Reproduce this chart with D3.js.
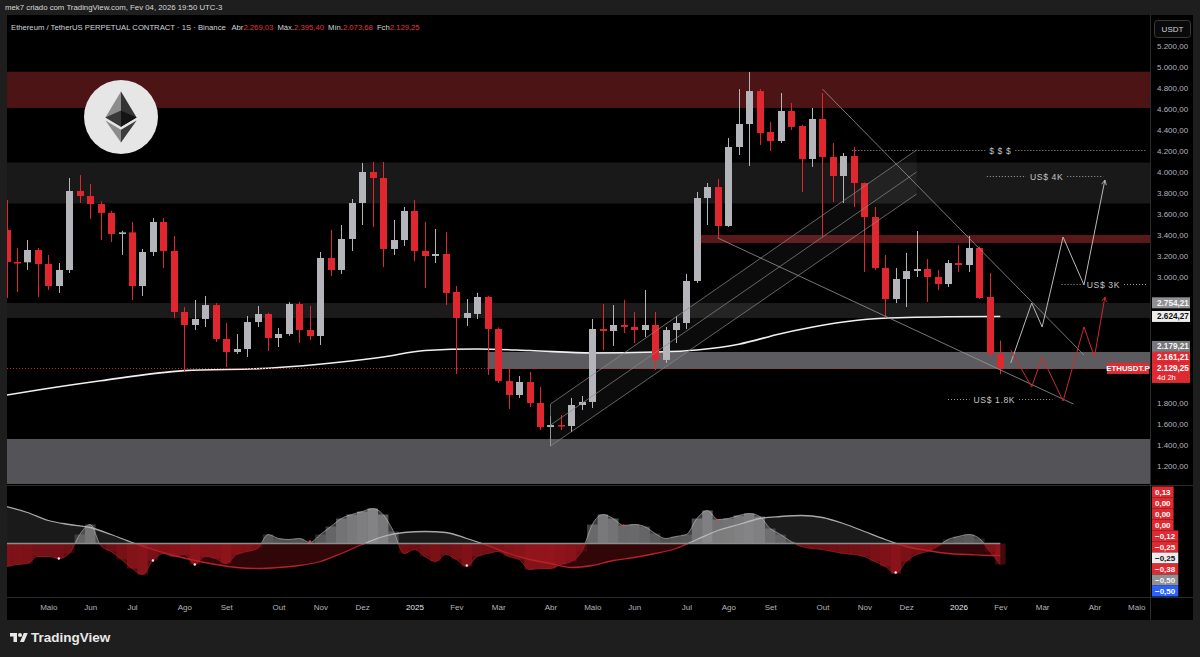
<!DOCTYPE html>
<html>
<head>
<meta charset="utf-8">
<script src="https://cdn.jsdelivr.net/npm/d3@7"></script>
<style>
  html, body { margin: 0; padding: 0; background: #1e1e1e; }
  svg { display: block; font-family: "Liberation Sans", Arial, sans-serif; }
</style>
</head>
<body>
<svg id="chart" width="1200" height="657"></svg>
<script>
// ETH/USDT weekly candles (1S), Apr 2024 -> Feb 2026
const firstWeek = "2024-04-08";
const opens  = [3448,3143,3140,3257,3124,2914,3067,3819,3771,3695,3610,3410,3425,2914,3238,3524,3248,2667,2543,2600,
                2733,2410,2286,2314,2571,2648,2419,2457,2743,2495,2438,3181,3067,3362,3705,4000,3943,3267,3352,3629,
                3248,3200,3219,2857,2610,2648,2810,2505,2010,1876,2000,1800,1571,1590,1581,1781,1810,2505,2486,2543,
                2524,2495,2543,2210,2495,2562,2962,3752,3857,3486,4238,4457,4771,4381,4295,4581,4438,4124,4505,4143,
                3962,4152,3895,3571,3086,2790,2981,3057,3076,3000,2933,3133,3114,3276,2810,2269.03];
const highs  = [3733,3276,3352,3276,3210,3133,3943,3971,3886,3720,3630,3440,3524,3267,3562,3562,3390,2714,2781,2819,
                2752,2562,2457,2629,2724,2660,2514,2760,2762,2724,3238,3448,3495,3743,4086,4095,4095,3543,3667,3733,
                3524,3457,3429,2914,2790,2848,2819,2520,2133,2057,2095,1952,1676,1686,1848,1867,2600,2743,2733,2781,
                2667,2876,2667,2524,2629,3029,3810,3895,3933,4324,4790,4952,4790,4476,4752,4657,4450,4610,4752,4276,
                4181,4238,3900,3667,3210,3086,3229,3438,3171,3067,3162,3305,3390,3290,3038,2395.40];
const lows   = [2800,2857,3067,2810,2876,2848,3038,3705,3552,3352,3333,3210,2781,2819,3200,3086,2610,2095,2495,2524,
                2381,2143,2267,2238,2524,2295,2333,2440,2371,2400,2352,3010,3029,3248,3495,3476,3095,3210,3295,3152,
                2895,3133,2733,2076,2533,2600,2067,1990,1743,1848,1762,1543,1390,1543,1524,1733,1752,2305,2343,2467,
                2371,2429,2114,2181,2371,2505,2943,3495,3371,3476,4162,4057,4257,4200,4276,4400,3810,4048,3381,3714,
                3705,3667,3048,3067,2610,2752,2714,3000,2762,2876,2905,3048,3048,2790,2238,2073.68];
const closes = [3143,3140,3257,3124,2914,3067,3819,3771,3695,3610,3410,3425,2914,3238,3524,3248,2667,2543,2600,2733,
                2410,2286,2314,2571,2648,2419,2457,2743,2495,2438,3181,3067,3362,3705,4000,3943,3267,3352,3629,3248,
                3200,3219,2848,2610,2657,2810,2505,2010,1876,2000,1800,1571,1590,1581,1781,1810,2505,2486,2543,2524,
                2495,2543,2210,2495,2562,2962,3752,3857,3486,4238,4457,4771,4371,4295,4581,4429,4124,4505,4143,3962,
                4152,3895,3571,3086,2790,2981,3057,3076,3000,2933,3133,3114,3276,2800,2269.03,2129.25];

// long moving average (white line), sampled every few weeks
const maWeek   = [0,3,9,17,25,32,36,40,45,50,56,62,66,70,74,78,82,86,90,95];
const maValues = [1876,1924,2012,2108,2131,2190,2238,2300,2314,2300,2276,2285,2305,2360,2460,2540,2595,2614,2622,2624.27];

// horizontal zones [low, high], start week ("" = from the left edge)
const zoneLow   = [4610, 3700, 3324, 2610, 2124, 1029];
const zoneHigh  = [4955, 4090, 3400, 2752, 2286, 1457];
const zoneStart = ["", "", "2025-07-14", "", "2025-02-24", ""];

// ascending channel
const channelDates = ["2025-04-07", "2025-12-08"];
const channelTop = [1790, 4210];
const channelMid = [1590, 4000];
const channelBot = [1390, 3790];

// descending trend lines
const trendDates  = [["2025-10-06", "2026-03-30"], ["2025-07-28", "2026-03-23"]];
const trendPrices = [[4790, 2257], [3371, 1790]];

// projected paths
const projGrayDates = ["2026-02-09","2026-02-23","2026-03-02","2026-03-16","2026-03-30","2026-04-13"];
const projGray      = [2181, 2752, 2524, 3381, 2924, 3924];
const projRedDates  = ["2026-02-09","2026-02-23","2026-03-02","2026-03-16","2026-03-30","2026-04-06","2026-04-13"];
const projRed       = [2305, 1952, 2238, 1819, 2524, 2238, 2810];

// dotted target levels
const targetText  = ["$ $ $", "US$ 4K", "US$ 3K", "US$ 1.8K"];
const targetPrice = [4210, 3962, 2933, 1838];
const targetFrom  = ["2025-10-26", "2026-01-24", "2026-03-15", "2025-12-29"];
const targetTo    = ["2026-05-11", "2026-04-12", "2026-05-11", "2026-03-09"];
const targetAt    = ["2026-02-02", "2026-03-05", "2026-04-12", "2026-01-29"];

// price scale labels
const axisLabelValue = [2754.21, 2624.27, 2179.21, 2161.21, 2129.25];
const axisLabelKind  = ["gray", "white", "gray2", "red", "red"];

// oscillator pane
const oscFast = [-0.23,-0.21,-0.20,-0.13,-0.13,-0.15,-0.10,0.09,0.19,-0.02,
                 -0.08,-0.16,-0.25,-0.31,-0.17,-0.10,-0.13,-0.11,-0.21,-0.13,
                 -0.15,-0.20,-0.11,-0.08,-0.05,0.09,0.05,0.04,0.05,0.01,
                 0.09,0.17,0.25,0.29,0.32,0.35,0.29,0.12,-0.10,-0.06,
                 -0.13,-0.18,-0.11,-0.16,-0.23,-0.13,-0.10,-0.08,-0.13,-0.16,
                 -0.26,-0.25,-0.25,-0.21,-0.18,-0.08,0.19,0.29,0.25,0.18,
                 0.19,0.17,0.10,0.05,0.07,0.09,0.25,0.33,0.24,0.25,
                 0.28,0.30,0.27,0.15,0.09,0.02,-0.03,-0.05,-0.06,-0.08,
                 -0.10,-0.11,-0.13,-0.18,-0.23,-0.30,-0.18,-0.11,-0.08,-0.03,
                 0.04,0.07,0.09,0.05,-0.08,-0.21];
const oscSlowWeek = [0,2,4,6,8,10,12,14,16,18,20,22,24,26,28,30,32,34,36,38,40,42,44,46,48,
                     50,52,54,56,58,60,62,64,66,68,70,72,74,76,78,80,82,84,86,88,90,92,94,95];
const oscSlow = [0.37,0.31,0.23,0.19,0.16,0.09,0.01,-0.06,-0.12,-0.17,-0.21,-0.24,-0.25,-0.24,-0.22,-0.18,-0.10,-0.01,0.07,0.11,0.12,0.11,0.05,-0.02,-0.10,
                 -0.16,-0.20,-0.24,-0.22,-0.17,-0.14,-0.10,-0.05,0.04,0.13,0.19,0.25,0.27,0.28,0.26,0.20,0.12,0.04,-0.03,-0.07,-0.10,-0.11,-0.12,-0.12];
const oscDotWeek = [5,14,18,29,44,59,68,85];
const oscDotValue = [-0.15,-0.17,-0.21,0.02,-0.22,0.18,0.23,-0.29];
const oscLabels = ["0,13","0,00","0,00","0,00","\u22120,12","\u22120,25","\u22120,25","\u22120,38","\u22120,50","\u22120,50"];
const oscLabelKind = ["red","red","red","red","red","red","white","red","gray","blue"];

// time axis
const monthTicks = ["2024-05-06","2024-06-03","2024-07-01","2024-08-05","2024-09-02","2024-10-07","2024-11-04","2024-12-02",
                    "2025-01-06","2025-02-03","2025-03-03","2025-04-07","2025-05-05","2025-06-02","2025-07-07","2025-08-04",
                    "2025-09-01","2025-10-06","2025-11-03","2025-12-01","2026-01-05","2026-02-02","2026-03-02","2026-04-06","2026-05-04"];
const monthLabels = ["Maio","Jun","Jul","Ago","Set","Out","Nov","Dez","2025","Fev","Mar","Abr",
                     "Maio","Jun","Jul","Ago","Set","Out","Nov","Dez","2026","Fev","Mar","Abr","Maio"];

// ---------------------------------------------------------------
const parse = d3.utcParse("%Y-%m-%d");
const fmt = d3.formatLocale({ decimal: ",", thousands: ".", grouping: [3], currency: ["", ""] }).format(",.2f");

const RED = "#e0262e", GRAY = "#b4b5ba";
const PANE_L = 7, PANE_R = 1150, FRAME_R = 1193, TOP = 15, MAIN_B = 485, IND_B = 597, AXIS_B = 620;

const start = parse(firstWeek);
const weekDates = opens.map((_, i) => d3.utcDay.offset(start, 7 * i));
const weekAt = i => d3.utcDay.offset(start, 7 * i);

const x = d3.scaleUtc().domain([start, weekDates[weekDates.length - 1]]).range([6.5, 1000.3]);
const y = d3.scaleLinear().domain([1200, 5000]).range([466, 67]);
const yi = d3.scaleLinear().domain([-0.55, 0.55]).range([598.5, 488.5]);

const svg = d3.select("#chart");
const defs = svg.append("defs");

defs.append("clipPath").attr("id", "clipMain").append("rect")
  .attr("x", PANE_L).attr("y", TOP).attr("width", PANE_R - PANE_L).attr("height", MAIN_B - TOP);
defs.append("clipPath").attr("id", "clipInd").append("rect")
  .attr("x", PANE_L).attr("y", MAIN_B + 1).attr("width", PANE_R - PANE_L).attr("height", IND_B - MAIN_B - 1);
defs.append("clipPath").attr("id", "clipUp").append("rect")
  .attr("x", PANE_L).attr("y", MAIN_B).attr("width", PANE_R - PANE_L).attr("height", yi(0) - MAIN_B);
defs.append("clipPath").attr("id", "clipDown").append("rect")
  .attr("x", PANE_L).attr("y", yi(0)).attr("width", PANE_R - PANE_L).attr("height", IND_B - yi(0));

function arrow(id, color) {
  defs.append("marker").attr("id", id)
    .attr("viewBox", "0 0 10 10").attr("refX", 9).attr("refY", 5)
    .attr("markerWidth", 6).attr("markerHeight", 6).attr("orient", "auto")
    .append("path").attr("d", "M1,1L9,5L1,9")
    .attr("fill", "none").attr("stroke", color).attr("stroke-width", 1.4);
}
arrow("arrGray", "#b8b8b8");
arrow("arrRed", "#d0282e");

// backgrounds
svg.append("rect").attr("width", 1200).attr("height", 657).attr("fill", "#1e1e1e");
svg.append("rect").attr("x", PANE_L).attr("y", TOP).attr("width", FRAME_R - PANE_L).attr("height", AXIS_B - TOP).attr("fill", "#000");

// header
svg.append("text").attr("x", 5).attr("y", 9.5).attr("fill", "#d8d8d8").attr("font-size", 7.8)
  .text("mek7 criado com TradingView.com, Fev 04, 2026 19:50 UTC-3");

// ---------------- main pane ----------------
const main = svg.append("g").attr("clip-path", "url(#clipMain)");

const zoneColor = ["#4d1416", "#191919", "#5a181b", "#1b1b1b", "#5c5c60", "#545458"];
main.selectAll("rect.zone").data(zoneLow).join("rect")
  .attr("class", "zone")
  .attr("x", (d, i) => zoneStart[i] ? x(parse(zoneStart[i])) : PANE_L)
  .attr("width", (d, i) => PANE_R - (zoneStart[i] ? x(parse(zoneStart[i])) : PANE_L))
  .attr("y", (d, i) => y(zoneHigh[i]))
  .attr("height", (d, i) => y(zoneLow[i]) - y(zoneHigh[i]))
  .attr("fill", (d, i) => zoneColor[i]);

// channel
const cd = channelDates.map(parse);
main.append("path")
  .attr("d", `M${x(cd[0])},${y(channelTop[0])}L${x(cd[1])},${y(channelTop[1])}L${x(cd[1])},${y(channelBot[1])}L${x(cd[0])},${y(channelBot[0])}Z`)
  .attr("fill", "rgba(255,255,255,0.045)");

// moving average
main.append("path")
  .datum(maWeek.map((w, i) => [weekAt(w), maValues[i]]))
  .attr("d", d3.line().x(d => x(d[0])).y(d => y(d[1])).curve(d3.curveMonotoneX))
  .attr("fill", "none").attr("stroke", "#f0f0f0").attr("stroke-width", 1.6);

// current price line
const lastY = Math.round(y(closes[closes.length - 1])) + 0.5;
main.append("line")
  .attr("x1", PANE_L).attr("x2", 1107).attr("y1", lastY).attr("y2", lastY)
  .attr("stroke", "#c62a30").attr("stroke-width", 1).attr("stroke-dasharray", "1,2");

// candles
const candles = weekDates.map((d, i) => ({ d, o: opens[i], h: highs[i], l: lows[i], c: closes[i] }));
const cg = main.append("g");
cg.selectAll("line").data(candles).join("line")
  .attr("x1", d => Math.round(x(d.d)) + 0.5).attr("x2", d => Math.round(x(d.d)) + 0.5)
  .attr("y1", d => y(d.h)).attr("y2", d => y(d.l))
  .attr("stroke", d => d.c >= d.o ? GRAY : RED).attr("stroke-width", 1);
cg.selectAll("rect").data(candles).join("rect")
  .attr("x", d => Math.round(x(d.d)) - 3)
  .attr("width", 7)
  .attr("y", d => y(Math.max(d.o, d.c)))
  .attr("height", d => Math.max(1.5, Math.abs(y(d.o) - y(d.c))))
  .attr("fill", d => d.c >= d.o ? GRAY : RED);

// channel lines
[channelTop, channelMid, channelBot].forEach(p => {
  main.append("line")
    .attr("x1", x(cd[0])).attr("y1", y(p[0])).attr("x2", x(cd[1])).attr("y2", y(p[1]))
    .attr("stroke", "#8a8a8a").attr("stroke-width", 0.9).attr("opacity", 0.8);
});
main.append("line")
  .attr("x1", x(cd[0])).attr("x2", x(cd[0])).attr("y1", y(channelTop[0])).attr("y2", y(channelBot[0]))
  .attr("stroke", "#8a8a8a").attr("stroke-width", 0.9).attr("opacity", 0.8);

// descending trend lines
trendDates.forEach((td, i) => {
  main.append("line")
    .attr("x1", x(parse(td[0]))).attr("y1", y(trendPrices[i][0]))
    .attr("x2", x(parse(td[1]))).attr("y2", y(trendPrices[i][1]))
    .attr("stroke", "#9c9c9c").attr("stroke-width", 0.9).attr("opacity", 0.85);
});

// projections
const projLine = d3.line().x(d => x(d[0])).y(d => y(d[1]));
main.append("path")
  .datum(projGrayDates.map((d, i) => [parse(d), projGray[i]]))
  .attr("d", projLine).attr("fill", "none").attr("stroke", "#b8b8b8").attr("stroke-width", 1)
  .attr("marker-end", "url(#arrGray)");
main.append("path")
  .datum(projRedDates.map((d, i) => [parse(d), projRed[i]]))
  .attr("d", projLine).attr("fill", "none").attr("stroke", "#d0282e").attr("stroke-width", 1)
  .attr("marker-end", "url(#arrRed)");

// dotted target levels
targetText.forEach((t, i) => {
  const yy = Math.round(y(targetPrice[i])) + 0.5;
  const tx = x(parse(targetAt[i]));
  const label = main.append("text").attr("x", tx).attr("y", yy + 3)
    .attr("text-anchor", "middle").attr("fill", "#c4c4c4").attr("font-size", 8.6)
    .attr("letter-spacing", 0.6).text(t);
  const w = label.node().getComputedTextLength();
  const segs = [[x(parse(targetFrom[i])), tx - w / 2 - 4], [tx + w / 2 + 4, x(parse(targetTo[i]))]];
  segs.forEach(s => {
    main.append("line").attr("x1", s[0]).attr("x2", s[1]).attr("y1", yy).attr("y2", yy)
      .attr("stroke", "#a0a0a0").attr("stroke-width", 1).attr("stroke-dasharray", "1,2");
  });
});

// legend line
const legend = svg.append("text").attr("x", 11).attr("y", 30).attr("font-size", 7.7).attr("fill", "#d1d4dc");
legend.append("tspan").text("Ethereum / TetherUS PERPETUAL CONTRACT \u00b7 1S \u00b7 Binance ");
[["Abr", opens], ["M\u00e1x.", highs], ["M\u00edn.", lows], ["Fch", closes]].forEach(([k, arr]) => {
  legend.append("tspan").attr("dx", 4).attr("fill", "#d1d4dc").text(k);
  legend.append("tspan").attr("fill", "#e0343a").text(fmt(arr[arr.length - 1]));
});

// ethereum logo
const logo = svg.append("g");
logo.append("circle").attr("cx", 121).attr("cy", 117).attr("r", 37).attr("fill", "#e6e6e6");
const eth = logo.append("g").attr("transform", "translate(105.4,91.6) scale(0.122)");
[["#343434", "127.9,0 125.1,9.5 125.1,285.2 127.9,288 255.8,212.3"],
 ["#8c8c8c", "127.9,0 0,212.3 127.9,288 127.9,154.2"],
 ["#3c3c3b", "127.9,312.2 126.3,314.1 126.3,412.4 127.9,416.9 255.9,236.6"],
 ["#8c8c8c", "127.9,416.9 127.9,312.2 0,236.6"],
 ["#141414", "127.9,288 255.8,212.3 127.9,154.2"],
 ["#393939", "0,212.3 127.9,288 127.9,154.2"]].forEach(p => {
  eth.append("polygon").attr("points", p[1]).attr("fill", p[0]);
});

// ---------------- oscillator pane ----------------
const ind = svg.append("g").attr("clip-path", "url(#clipInd)");
const slowPts = oscSlowWeek.map((w, i) => [weekAt(w), oscSlow[i]]);
const fastPts = oscFast.map((v, i) => [weekDates[i], v]);

const areaZero = d3.area().x(d => x(d[0])).y0(yi(0)).y1(d => yi(d[1])).curve(d3.curveMonotoneX);
const lineOsc = d3.line().x(d => x(d[0])).y(d => yi(d[1])).curve(d3.curveMonotoneX);

const up = ind.append("g").attr("clip-path", "url(#clipUp)");
const down = ind.append("g").attr("clip-path", "url(#clipDown)");

up.append("path").datum(slowPts).attr("d", areaZero).attr("fill", "rgba(160,160,160,0.16)");
down.append("path").datum(slowPts).attr("d", areaZero).attr("fill", "rgba(150,20,28,0.32)");
up.append("path").datum(fastPts).attr("d", areaZero).attr("fill", "rgba(175,175,180,0.34)");
down.append("path").datum(fastPts).attr("d", areaZero).attr("fill", "rgba(180,24,32,0.5)");

// histogram columns give the banded look
ind.selectAll("rect.col").data(fastPts).join("rect")
  .attr("class", "col")
  .attr("x", d => x(d[0]) - 5.2).attr("width", 10.5)
  .attr("y", d => d[1] >= 0 ? yi(d[1]) : yi(0))
  .attr("height", d => Math.abs(yi(d[1]) - yi(0)))
  .attr("fill", d => d[1] >= 0 ? "#cfcfd3" : "#c41f29")
  .attr("opacity", d => 0.1 + Math.abs(d[1]) * 1.1);

up.append("path").datum(fastPts).attr("d", lineOsc).attr("fill", "none").attr("stroke", "#9a9a9e").attr("stroke-width", 0.8);
down.append("path").datum(fastPts).attr("d", lineOsc).attr("fill", "none").attr("stroke", "#9a1f26").attr("stroke-width", 0.8);

ind.append("line").attr("x1", x(weekDates[0])).attr("x2", x(weekDates[weekDates.length - 1]))
  .attr("y1", yi(0)).attr("y2", yi(0)).attr("stroke", "#8c8c8c").attr("stroke-width", 1.6);

up.append("path").datum(slowPts).attr("d", lineOsc).attr("fill", "none").attr("stroke", "#a8a8a8").attr("stroke-width", 1.3);
down.append("path").datum(slowPts).attr("d", lineOsc).attr("fill", "none").attr("stroke", "#b3232b").attr("stroke-width", 1.3);

ind.selectAll("circle.dot").data(oscDotWeek).join("circle")
  .attr("class", "dot")
  .attr("cx", d => x(weekAt(d))).attr("cy", (d, i) => yi(oscDotValue[i])).attr("r", 1.2)
  .attr("fill", (d, i) => oscDotValue[i] < 0 ? "#f0f0f0" : "#e8404a");

// ---------------- frame lines ----------------
svg.append("line").attr("x1", PANE_R + 0.5).attr("x2", PANE_R + 0.5).attr("y1", TOP).attr("y2", AXIS_B).attr("stroke", "#2a2a2a");
svg.append("line").attr("x1", PANE_L).attr("x2", FRAME_R).attr("y1", MAIN_B + 0.5).attr("y2", MAIN_B + 0.5).attr("stroke", "#2a2a2a");
svg.append("line").attr("x1", PANE_L).attr("x2", FRAME_R).attr("y1", IND_B + 0.5).attr("y2", IND_B + 0.5).attr("stroke", "#2a2a2a");

// ---------------- price axis ----------------
const labelStyle = {
  gray:  { bg: "#8f8f94", fg: "#f4f4f4" },
  white: { bg: "#ececec", fg: "#111" },
  gray2: { bg: "#77777c", fg: "#f4f4f4" },
  red:   { bg: "#df2a31", fg: "#fff" },
  blue:  { bg: "#2962ff", fg: "#fff" }
};
const LH = 11;
const lastIdx = axisLabelValue.length - 1;
const centers = axisLabelValue.map(v => y(v));
let limit = centers[lastIdx] - LH / 2;
for (let i = lastIdx - 1; i >= 0; i--) {
  if (centers[i] + LH / 2 > limit) centers[i] = limit - LH / 2;
  limit = centers[i] - LH / 2;
}
const boxes = centers.map((c, i) => [c - LH / 2, c - LH / 2 + (i === lastIdx ? LH + 9 : LH)]);

const yAxis = d3.axisRight(y).tickValues(d3.range(1200, 5201, 200)).tickSize(0).tickPadding(0).tickFormat(fmt);
const ya = svg.append("g").attr("transform", "translate(1157,0)").call(yAxis);
ya.select(".domain").remove();
// ticks hidden behind the price tags
ya.selectAll(".tick").filter(d => boxes.some(b => y(d) > b[0] - 4 && y(d) < b[1] + 4)).remove();
ya.selectAll("text").attr("fill", "#b2b5be").attr("font-size", 8).attr("font-family", "Liberation Sans, Arial, sans-serif");

svg.append("rect").attr("x", 1154.5).attr("y", 20.5).attr("width", 36).attr("height", 17).attr("rx", 3)
  .attr("fill", "#0a0a0a").attr("stroke", "#3a3a3a");
svg.append("text").attr("x", 1172.5).attr("y", 32).attr("text-anchor", "middle").attr("fill", "#d1d4dc")
  .attr("font-size", 8).text("USDT");

axisLabelValue.forEach((v, i) => {
  const st = labelStyle[axisLabelKind[i]];
  svg.append("rect").attr("x", 1152).attr("y", boxes[i][0]).attr("width", 38).attr("height", boxes[i][1] - boxes[i][0]).attr("fill", st.bg);
  svg.append("text").attr("x", 1157).attr("y", centers[i] + 3).attr("fill", st.fg)
    .attr("font-size", 8.2).attr("font-weight", "bold").text(fmt(v));
});
svg.append("text").attr("x", 1157).attr("y", centers[lastIdx] + 12).attr("fill", "#fff")
  .attr("font-size", 7.5).text("4d 2h");

// symbol tag on the price line
const tagY = y(closes[closes.length - 1]);
svg.append("rect").attr("x", 1107).attr("y", tagY - 5.5).attr("width", 42).attr("height", 11).attr("fill", "#df2a31");
svg.append("text").attr("x", 1128).attr("y", tagY + 3).attr("text-anchor", "middle").attr("fill", "#fff")
  .attr("font-size", 7.8).attr("font-weight", "bold").text("ETHUSDT.P");

// oscillator labels stacked
oscLabels.forEach((t, i) => {
  const st = labelStyle[oscLabelKind[i]];
  const cy = 492 + i * 11;
  const txt = svg.append("text").attr("x", 1155).attr("y", cy + 3).attr("fill", st.fg)
    .attr("font-size", 8).attr("font-weight", "bold").text(t);
  const w = txt.node().getComputedTextLength();
  svg.insert("rect", () => txt.node()).attr("x", 1152).attr("y", cy - 5.5).attr("width", w + 6).attr("height", 11).attr("fill", st.bg);
});

// ---------------- time axis ----------------
const xAxis = d3.axisBottom(x).tickValues(monthTicks.map(parse)).tickSize(0).tickPadding(0)
  .tickFormat((d, i) => monthLabels[i]);
const xa = svg.append("g").attr("transform", `translate(0,${IND_B + 7})`).call(xAxis);
xa.select(".domain").remove();
xa.selectAll("text").attr("fill", (d, i) => /^\d+$/.test(monthLabels[i]) ? "#e4e6ea" : "#b2b5be")
  .attr("font-size", 8).attr("font-family", "Liberation Sans, Arial, sans-serif");

// ---------------- footer ----------------
const tv = svg.append("g").attr("transform", "translate(10,631) scale(0.5)").attr("fill", "#e8e8e8");
tv.append("path").attr("d", "M14 22H7V11H0V4h14v18zM28 22h-8l7.5-18h8L28 22z");
tv.append("circle").attr("cx", 20).attr("cy", 8).attr("r", 4);
svg.append("text").attr("x", 31).attr("y", 642).attr("fill", "#e8e8e8")
  .attr("font-size", 13.5).attr("font-weight", "bold").text("TradingView");
</script>
</body>
</html>
